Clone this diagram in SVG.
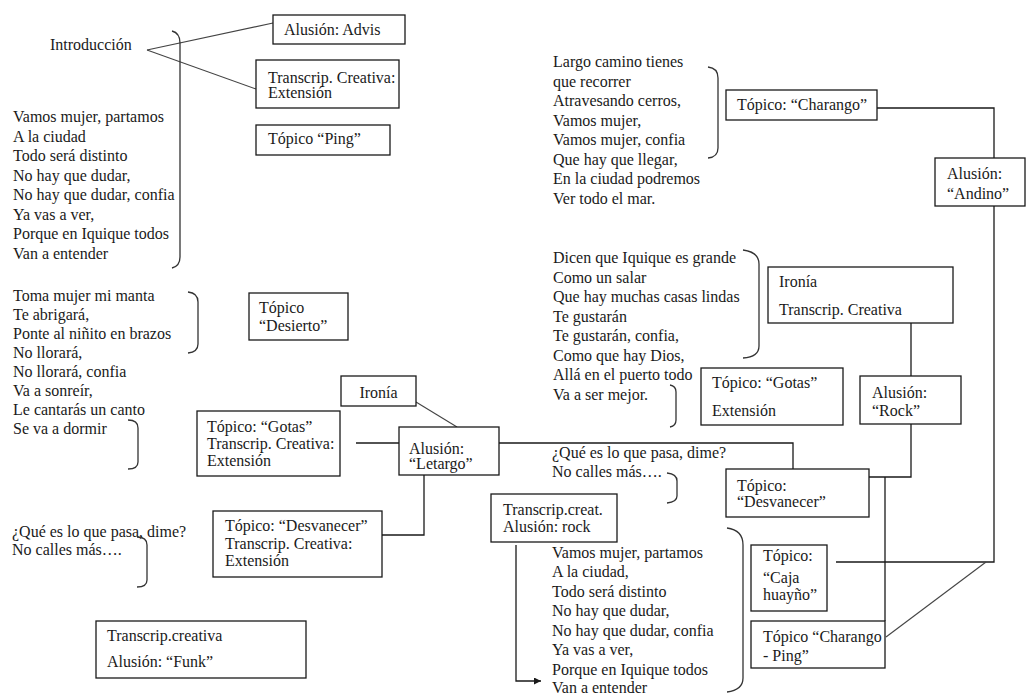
<svg xmlns="http://www.w3.org/2000/svg" width="1026" height="694" viewBox="0 0 1026 694" font-family="'Liberation Serif', 'Times New Roman', Times, serif">
  <defs>
    <style>
      text { font-family: 'Liberation Serif', 'Times New Roman', Times, serif; font-size: 16px; fill: #1a1a1a; }
      .box { fill: #ffffff; stroke: #1a1a1a; stroke-width: 1.3; }
      .link { fill: none; stroke: #1a1a1a; stroke-width: 1.3; }
      .thin { fill: none; stroke: #444; stroke-width: 1.1; }
      .brace { fill: none; stroke: #333; stroke-width: 1.3; }
    </style>
    <marker id="arrow" viewBox="0 0 10 10" refX="10" refY="5" markerWidth="9" markerHeight="7" markerUnits="userSpaceOnUse" orient="auto">
      <path d="M0,0 L10,5 L0,10 Z" fill="#1a1a1a"/>
    </marker>
  </defs>

  <rect width="1026" height="694" fill="#ffffff"/>

  <!-- connectors -->
  <g id="connectors">
    <path class="thin" d="M147,50 L273,23"/>
    <path class="thin" d="M147,50 L256,89"/>
    <path class="link" d="M356,443 L399,443"/>
    <path class="thin" d="M416,402 L457,427"/>
    <path class="link" d="M499,443 L793,443 L793,469"/>
    <path class="link" d="M424,475 L424,535 L382,535"/>
    <path class="link" d="M516,545 L516,681 L541,681" marker-end="url(#arrow)"/>
    <path class="link" d="M877,108 L994,108 L994,158"/>
    <path class="link" d="M994,206 L994,562 L836,562"/>
    <path class="thin" d="M986,562 L886,637"/>
    <path class="link" d="M911,323 L911,376"/>
    <path class="link" d="M911,424 L911,477 L869,477"/>
    <path class="link" d="M885,477 L885,621"/>
  </g>

  <!-- song text blocks -->
  <g id="intro-label">
    <text x="50" y="50">Introducción</text>
  </g>

  <g id="verse-1">
    <text x="13" y="122">Vamos mujer, partamos</text>
    <text x="13" y="141.5">A la ciudad</text>
    <text x="13" y="161">Todo será distinto</text>
    <text x="13" y="180.5">No hay que dudar,</text>
    <text x="13" y="200">No hay que dudar, confia</text>
    <text x="13" y="219.5">Ya vas a ver,</text>
    <text x="13" y="239">Porque en Iquique todos</text>
    <text x="13" y="258.5">Van a entender</text>
  </g>

  <g id="verse-2">
    <text x="13" y="300.5">Toma mujer mi manta</text>
    <text x="13" y="319.5">Te abrigará,</text>
    <text x="13" y="338.5">Ponte al niñito en brazos</text>
    <text x="13" y="357.5">No llorará,</text>
    <text x="13" y="376.5">No llorará, confia</text>
    <text x="13" y="395.5">Va a sonreír,</text>
    <text x="13" y="414.5">Le cantarás un canto</text>
    <text x="13" y="433.5">Se va a dormir</text>
  </g>

  <g id="bridge-1">
    <text x="12" y="536.5">¿Qué es lo que pasa, dime?</text>
    <text x="12" y="554.5">No calles más….</text>
  </g>

  <g id="verse-3">
    <text x="553" y="67">Largo camino tienes</text>
    <text x="553" y="86.5">que recorrer</text>
    <text x="553" y="106">Atravesando cerros,</text>
    <text x="553" y="125.5">Vamos mujer,</text>
    <text x="553" y="145">Vamos mujer, confia</text>
    <text x="553" y="164.5">Que hay que llegar,</text>
    <text x="553" y="184">En la ciudad podremos</text>
    <text x="553" y="203.5">Ver todo el mar.</text>
  </g>

  <g id="verse-4">
    <text x="553" y="263">Dicen que Iquique es grande</text>
    <text x="553" y="282.5">Como un salar</text>
    <text x="553" y="302">Que hay muchas casas lindas</text>
    <text x="553" y="321.5">Te gustarán</text>
    <text x="553" y="341">Te gustarán, confia,</text>
    <text x="553" y="360.5">Como que hay Dios,</text>
    <text x="553" y="380">Allá en el puerto todo</text>
    <text x="553" y="399.5">Va a ser mejor.</text>
  </g>

  <g id="bridge-2">
    <text x="552" y="458">¿Qué es lo que pasa, dime?</text>
    <text x="552" y="477">No calles más….</text>
  </g>

  <g id="verse-5">
    <text x="552" y="557.5">Vamos mujer, partamos</text>
    <text x="552" y="577">A la ciudad,</text>
    <text x="552" y="596.5">Todo será distinto</text>
    <text x="552" y="616">No hay que dudar,</text>
    <text x="552" y="635.5">No hay que dudar, confia</text>
    <text x="552" y="655">Ya vas a ver,</text>
    <text x="552" y="674.5">Porque en Iquique todos</text>
    <text x="552" y="692.5">Van a entender</text>
  </g>

  <!-- closing brackets beside the verses -->
  <g id="brackets">
    <path class="brace" d="M172,31 Q180,33 180,43 L180,257 Q180,266 172,268"/>
    <path class="brace" d="M188,292 Q198,293 198,302 L198,344 Q198,352 188,353"/>
    <path class="brace" d="M128,420 Q138,420 138,428 L138,462 Q138,469 128,469"/>
    <path class="brace" d="M137,537 Q147,537 147,545 L147,580 Q147,587 137,587"/>
    <path class="brace" d="M708,67 Q718,68 718,78 L718,148 Q718,157 708,158"/>
    <path class="brace" d="M743,250 Q759,252 759,264 L759,346 Q759,357 743,358"/>
    <path class="brace" d="M670,385 Q676,386 676,392 L676,420 Q676,426 670,427"/>
    <path class="brace" d="M667,473 Q677,474 677,481 L677,496 Q677,502 667,503"/>
    <path class="brace" d="M727,528 Q743,530 743,545 L743,678 Q743,690 727,692"/>
  </g>

  <!-- annotation boxes -->
  <g id="alusion-advis">
    <rect class="box" x="273" y="15" width="132" height="29"/>
    <text x="284" y="35">Alusión: Advis</text>
  </g>

  <g id="transcrip-extension">
    <rect class="box" x="256" y="60" width="143" height="48"/>
    <text x="268" y="83">Transcrip. Creativa:</text>
    <text x="268" y="98">Extensión</text>
  </g>

  <g id="topico-ping">
    <rect class="box" x="256" y="125" width="134" height="30"/>
    <text x="268" y="144">Tópico “Ping”</text>
  </g>

  <g id="topico-desierto">
    <rect class="box" x="249" y="293" width="99" height="47"/>
    <text x="259" y="313">Tópico</text>
    <text x="259" y="330.5">“Desierto”</text>
  </g>

  <g id="ironia-left">
    <rect class="box" x="341" y="376" width="75" height="30"/>
    <text x="378.5" y="398" text-anchor="middle">Ironía</text>
  </g>

  <g id="topico-gotas-left">
    <rect class="box" x="197" y="411" width="143" height="65"/>
    <text x="207" y="432">Tópico: “Gotas”</text>
    <text x="207" y="449">Transcrip. Creativa:</text>
    <text x="207" y="465.5">Extensión</text>
  </g>

  <g id="alusion-letargo">
    <rect class="box" x="399" y="427" width="100" height="48"/>
    <text x="409" y="454">Alusión:</text>
    <text x="409" y="469">“Letargo”</text>
  </g>

  <g id="topico-desvanecer-left">
    <rect class="box" x="213" y="511" width="169" height="66"/>
    <text x="225" y="531">Tópico: “Desvanecer”</text>
    <text x="225" y="549">Transcrip. Creativa:</text>
    <text x="225" y="565.5">Extensión</text>
  </g>

  <g id="transcrip-funk">
    <rect class="box" x="96" y="621" width="210" height="57"/>
    <text x="107" y="641">Transcrip.creativa</text>
    <text x="107" y="666.5">Alusión: “Funk”</text>
  </g>

  <g id="transcrip-rock">
    <rect class="box" x="491" y="494" width="126" height="48"/>
    <text x="503" y="514.5">Transcrip.creat.</text>
    <text x="503" y="532">Alusión: rock</text>
  </g>

  <g id="topico-charango">
    <rect class="box" x="726" y="90" width="151" height="30"/>
    <text x="737" y="110">Tópico: “Charango”</text>
  </g>

  <g id="alusion-andino">
    <rect class="box" x="935" y="158" width="90" height="48"/>
    <text x="947" y="179">Alusión:</text>
    <text x="947" y="199">“Andino”</text>
  </g>

  <g id="ironia-transcrip-right">
    <rect class="box" x="768" y="267" width="185" height="56"/>
    <text x="779" y="287">Ironía</text>
    <text x="779" y="315">Transcrip. Creativa</text>
  </g>

  <g id="topico-gotas-right">
    <rect class="box" x="701" y="368" width="142" height="57"/>
    <text x="712" y="388">Tópico: “Gotas”</text>
    <text x="712" y="416">Extensión</text>
  </g>

  <g id="alusion-rock">
    <rect class="box" x="860" y="376" width="101" height="48"/>
    <text x="872" y="398">Alusión:</text>
    <text x="872" y="415.5">“Rock”</text>
  </g>

  <g id="topico-desvanecer-right">
    <rect class="box" x="726" y="469" width="143" height="48"/>
    <text x="737" y="490.5">Tópico:</text>
    <text x="737" y="507">“Desvanecer”</text>
  </g>

  <g id="topico-caja-huayno">
    <rect class="box" x="751" y="545" width="76" height="66"/>
    <text x="763" y="561">Tópico:</text>
    <text x="763" y="583">“Caja</text>
    <text x="763" y="600">huayño”</text>
  </g>

  <g id="topico-charango-ping">
    <rect class="box" x="751" y="621" width="134" height="47"/>
    <text x="763" y="642">Tópico “Charango</text>
    <text x="763" y="660.5">- Ping”</text>
  </g>
</svg>
